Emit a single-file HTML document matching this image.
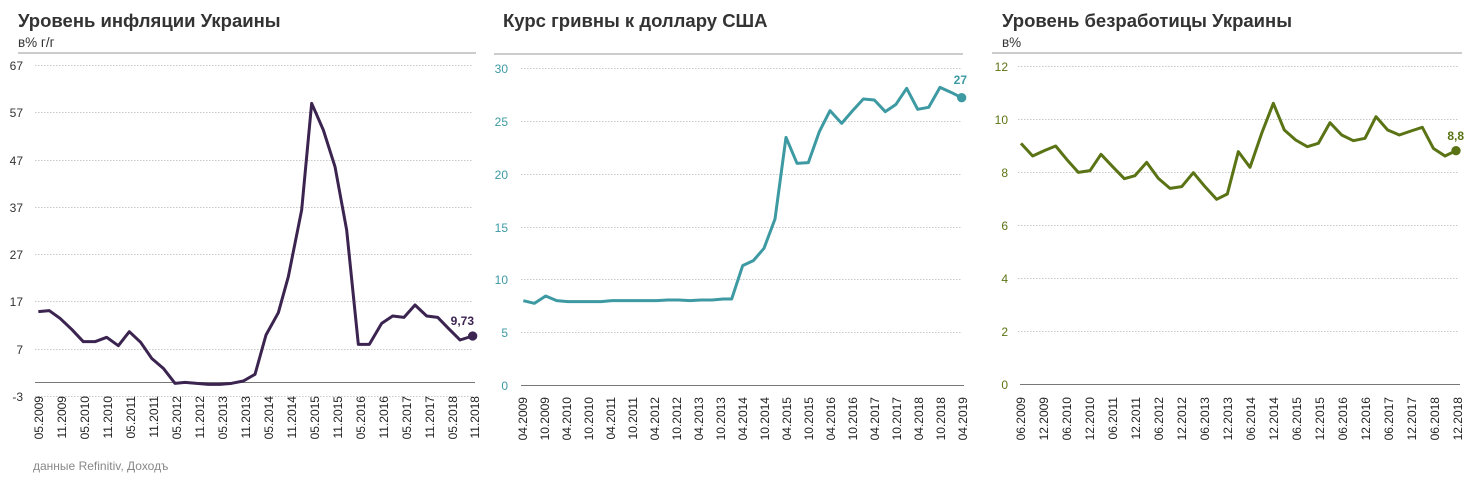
<!DOCTYPE html>
<html><head><meta charset="utf-8"><style>
html,body{margin:0;padding:0;background:#fff}
svg{display:block;font-family:"Liberation Sans","DejaVu Sans",sans-serif}
.t{font-size:18.5px;font-weight:bold;fill:#333}
.s{font-size:13.5px;fill:#333}
.g{stroke:#c8c8c8;stroke-width:1;stroke-dasharray:1.5 1.5}
.xl{font-size:12px;fill:#222}
</style></head><body>
<svg width="1477" height="487" viewBox="0 0 1477 487" xmlns="http://www.w3.org/2000/svg">
<!-- Chart 1 -->
<text x="18" y="27" class="t">Уровень инфляции Украины</text>
<text x="18" y="47" class="s">в% г/г</text>
<line x1="18" y1="53" x2="476" y2="53" stroke="#999" stroke-width="1"/>
<g class="g">
<line x1="35" y1="65.5" x2="473" y2="65.5"/><line x1="35" y1="112.5" x2="473" y2="112.5"/>
<line x1="35" y1="160.5" x2="473" y2="160.5"/><line x1="35" y1="207.5" x2="473" y2="207.5"/>
<line x1="35" y1="254.5" x2="473" y2="254.5"/><line x1="35" y1="301.5" x2="473" y2="301.5"/>
<line x1="35" y1="349.5" x2="473" y2="349.5"/><line x1="35" y1="396.5" x2="473" y2="396.5"/>
</g>
<line x1="35" y1="382.5" x2="475" y2="382.5" stroke="#777" stroke-width="1"/>
<g font-size="12" fill="#333" text-anchor="end">
<text x="23" y="70">67</text><text x="23" y="117">57</text><text x="23" y="165">47</text><text x="23" y="212">37</text>
<text x="23" y="259">27</text><text x="23" y="306">17</text><text x="23" y="354">7</text><text x="23" y="401">-3</text>
</g>
<g transform="scale(0.33333)">
<polyline fill="none" stroke="#3b2450" stroke-width="9" stroke-linejoin="round" points="115,935 148,932 180,955 215,988 250,1025 285,1025 320,1012 355,1037 388,995 422,1027 455,1075 490,1105 525,1150 555,1147 590,1150 625,1153 660,1153 695,1150 730,1143 765,1123 798,1005 835,938 865,830 905,630 935,310 970,390 1005,500 1040,690 1075,1033 1108,1033 1145,970 1178,948 1212,952 1245,915 1280,948 1313,952 1345,985 1380,1020 1418,1008"/>
<circle cx="1418" cy="1008" r="14" fill="#3b2450"/>
</g>
<text x="474" y="325" font-size="12" font-weight="bold" fill="#3b2450" text-anchor="end">9,73</text>
<g class="xl" text-anchor="end">
<text transform="translate(43,396) rotate(-90)">05.2009</text>
<text transform="translate(66,396) rotate(-90)">11.2009</text>
<text transform="translate(89,396) rotate(-90)">05.2010</text>
<text transform="translate(112,396) rotate(-90)">11.2010</text>
<text transform="translate(135,396) rotate(-90)">05.2011</text>
<text transform="translate(158,396) rotate(-90)">11.2011</text>
<text transform="translate(181,396) rotate(-90)">05.2012</text>
<text transform="translate(204,396) rotate(-90)">11.2012</text>
<text transform="translate(227,396) rotate(-90)">05.2013</text>
<text transform="translate(250,396) rotate(-90)">11.2013</text>
<text transform="translate(273,396) rotate(-90)">05.2014</text>
<text transform="translate(296,396) rotate(-90)">11.2014</text>
<text transform="translate(319,396) rotate(-90)">05.2015</text>
<text transform="translate(342,396) rotate(-90)">11.2015</text>
<text transform="translate(365,396) rotate(-90)">05.2016</text>
<text transform="translate(388,396) rotate(-90)">11.2016</text>
<text transform="translate(411,396) rotate(-90)">05.2017</text>
<text transform="translate(434,396) rotate(-90)">11.2017</text>
<text transform="translate(457,396) rotate(-90)">05.2018</text>
<text transform="translate(479,396) rotate(-90)">11.2018</text>
</g>
<text x="33" y="470" font-size="12" fill="#888">данные Refinitiv, Доходъ</text>

<!-- Chart 2 -->
<text x="503" y="27" class="t">Курс гривны к доллару США</text>
<line x1="494" y1="54" x2="963" y2="54" stroke="#999" stroke-width="1"/>
<g class="g">
<line x1="521" y1="68.5" x2="962" y2="68.5"/><line x1="521" y1="121.5" x2="962" y2="121.5"/>
<line x1="521" y1="174.5" x2="962" y2="174.5"/><line x1="521" y1="227.5" x2="962" y2="227.5"/>
<line x1="521" y1="279.5" x2="962" y2="279.5"/><line x1="521" y1="332.5" x2="962" y2="332.5"/>
</g>
<line x1="521" y1="385.5" x2="964" y2="385.5" stroke="#777" stroke-width="1"/>
<g font-size="12" fill="#3d9aa3" text-anchor="end">
<text x="508" y="73">30</text><text x="508" y="126">25</text><text x="508" y="179">20</text>
<text x="508" y="232">15</text><text x="508" y="284">10</text><text x="508" y="337">5</text><text x="508" y="390">0</text>
</g>
<g transform="translate(490,0) scale(0.33333)">
<polyline fill="none" stroke="#3d9aa3" stroke-width="9" stroke-linejoin="round" points="100,902 133,910 167,888 200,902 233,905 266,905 300,905 333,905 366,902 400,902 433,902 466,902 500,902 533,900 566,900 600,902 633,900 666,900 700,897 725,897 758,797 790,782 822,745 855,657 888,412 921,490 955,488 988,395 1020,332 1055,370 1088,332 1120,297 1153,300 1186,335 1218,313 1250,265 1283,328 1316,322 1350,262 1383,277 1415,293"/>
<circle cx="1415" cy="293" r="14" fill="#3d9aa3"/>
</g>
<text x="967" y="84" font-size="12" font-weight="bold" fill="#3d9aa3" text-anchor="end">27</text>
<g class="xl" text-anchor="end">
<text transform="translate(527,397) rotate(-90)">04.2009</text>
<text transform="translate(549,397) rotate(-90)">10.2009</text>
<text transform="translate(571,397) rotate(-90)">04.2010</text>
<text transform="translate(593,397) rotate(-90)">10.2010</text>
<text transform="translate(615,397) rotate(-90)">04.2011</text>
<text transform="translate(637,397) rotate(-90)">10.2011</text>
<text transform="translate(659,397) rotate(-90)">04.2012</text>
<text transform="translate(681,397) rotate(-90)">10.2012</text>
<text transform="translate(703,397) rotate(-90)">04.2013</text>
<text transform="translate(725,397) rotate(-90)">10.2013</text>
<text transform="translate(747,397) rotate(-90)">04.2014</text>
<text transform="translate(769,397) rotate(-90)">10.2014</text>
<text transform="translate(791,397) rotate(-90)">04.2015</text>
<text transform="translate(813,397) rotate(-90)">10.2015</text>
<text transform="translate(835,397) rotate(-90)">04.2016</text>
<text transform="translate(857,397) rotate(-90)">10.2016</text>
<text transform="translate(879,397) rotate(-90)">04.2017</text>
<text transform="translate(901,397) rotate(-90)">10.2017</text>
<text transform="translate(923,397) rotate(-90)">04.2018</text>
<text transform="translate(945,397) rotate(-90)">10.2018</text>
<text transform="translate(967,397) rotate(-90)">04.2019</text>
</g>

<!-- Chart 3 -->
<text x="1002" y="27" class="t">Уровень безработицы Украины</text>
<text x="1002" y="47" class="s">в%</text>
<line x1="992" y1="53" x2="1462" y2="53" stroke="#999" stroke-width="1"/>
<g class="g">
<line x1="1018" y1="66.5" x2="1458" y2="66.5"/><line x1="1018" y1="119.5" x2="1458" y2="119.5"/>
<line x1="1018" y1="172.5" x2="1458" y2="172.5"/><line x1="1018" y1="225.5" x2="1458" y2="225.5"/>
<line x1="1018" y1="278.5" x2="1458" y2="278.5"/><line x1="1018" y1="331.5" x2="1458" y2="331.5"/>
</g>
<line x1="1020" y1="384.5" x2="1460" y2="384.5" stroke="#777" stroke-width="1"/>
<g font-size="12" fill="#5a7314" text-anchor="end">
<text x="1008" y="71">12</text><text x="1008" y="124">10</text><text x="1008" y="177">8</text>
<text x="1008" y="230">6</text><text x="1008" y="283">4</text><text x="1008" y="336">2</text><text x="1008" y="389">0</text>
</g>
<g transform="translate(985,0) scale(0.33333)">
<polyline fill="none" stroke="#5a7314" stroke-width="9" stroke-linejoin="round" points="108,430 143,468 178,452 212,438 245,478 280,517 315,512 348,463 383,500 418,536 450,527 485,487 520,535 555,565 590,560 625,518 660,560 695,598 727,582 760,455 795,502 830,400 865,310 898,390 932,420 967,440 1000,430 1035,368 1070,405 1105,422 1140,415 1173,350 1208,390 1243,405 1278,393 1312,382 1345,445 1380,468 1413,452"/>
<circle cx="1413" cy="452" r="14" fill="#5a7314"/>
</g>
<text x="1464" y="140" font-size="12" font-weight="bold" fill="#5a7314" text-anchor="end">8,8</text>
<g class="xl" text-anchor="end">
<text transform="translate(1025,397) rotate(-90)">06.2009</text>
<text transform="translate(1048,397) rotate(-90)">12.2009</text>
<text transform="translate(1071,397) rotate(-90)">06.2010</text>
<text transform="translate(1094,397) rotate(-90)">12.2010</text>
<text transform="translate(1117,397) rotate(-90)">06.2011</text>
<text transform="translate(1140,397) rotate(-90)">12.2011</text>
<text transform="translate(1163,397) rotate(-90)">06.2012</text>
<text transform="translate(1186,397) rotate(-90)">12.2012</text>
<text transform="translate(1209,397) rotate(-90)">06.2013</text>
<text transform="translate(1232,397) rotate(-90)">12.2013</text>
<text transform="translate(1255,397) rotate(-90)">06.2014</text>
<text transform="translate(1278,397) rotate(-90)">12.2014</text>
<text transform="translate(1301,397) rotate(-90)">06.2015</text>
<text transform="translate(1324,397) rotate(-90)">12.2015</text>
<text transform="translate(1347,397) rotate(-90)">06.2016</text>
<text transform="translate(1370,397) rotate(-90)">12.2016</text>
<text transform="translate(1393,397) rotate(-90)">06.2017</text>
<text transform="translate(1416,397) rotate(-90)">12.2017</text>
<text transform="translate(1439,397) rotate(-90)">06.2018</text>
<text transform="translate(1462,397) rotate(-90)">12.2018</text>
</g>
</svg>
</body></html>
